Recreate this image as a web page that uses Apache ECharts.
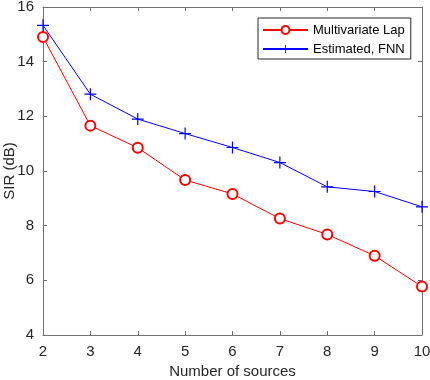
<!DOCTYPE html>
<html>
<head>
<meta charset="utf-8">
<script src="https://cdn.jsdelivr.net/npm/echarts@6/dist/echarts.min.js"></script>
<style>html,body{margin:0;padding:0;background:#fff}#c{width:430px;height:380px}</style>
</head>
<body>
<div id="c"></div>
<script>
var sources = [2, 3, 4, 5, 6, 7, 8, 9, 10];
var multivariateLap = [14.9, 11.66, 10.85, 9.67, 9.16, 8.26, 7.68, 6.9, 5.77];
var estimatedFNN = [15.33, 12.81, 11.9, 11.37, 10.86, 10.31, 9.42, 9.25, 8.69];
var xTicks = [2, 3, 4, 5, 6, 7, 8, 9, 10];
var yTicks = [4, 6, 8, 10, 12, 14, 16];

var FONT = "'Liberation Sans', Arial, Helvetica, sans-serif";
var AX = '#707070';
var TXT = '#262626';
var plusPath = 'path://M4.5,0 H5.5 V4.5 H10 V5.5 H5.5 V10 H4.5 V5.5 H0 V4.5 H4.5 Z';

function pairs(xs, ys) { return xs.map(function (x, i) { return [x, ys[i]]; }); }

var chart = echarts.init(document.getElementById('c'), null, {renderer: 'canvas'});
var baseAxis = {
  axisLine: {show: true, lineStyle: {color: AX, width: 1}},
  axisTick: {show: true, inside: true, length: 4, lineStyle: {color: AX, width: 1}},
  splitLine: {show: false},
  axisLabel: {show: false}
};
chart.setOption({
  animation: false,
  backgroundColor: '#fff',
  textStyle: {fontFamily: FONT},
  grid: {left: 43, right: 8, top: 7, bottom: 45, containLabel: false, outerBoundsMode: 'none'},
  legend: {
    orient: 'vertical',
    left: 258, top: 18,
    padding: [4, 6, 2, 4],
    itemWidth: 45, itemHeight: 10, itemGap: 3,
    borderColor: TXT, borderWidth: 1, backgroundColor: '#fff',
    textStyle: {fontFamily: FONT, fontSize: 13, color: '#000', lineHeight: 16},
    data: ['Multivariate Lap', 'Estimated, FNN']
  },
  xAxis: [
    Object.assign({}, baseAxis, {
      type: 'value', min: 2, max: 10, interval: 1, position: 'bottom',
      axisLabel: {show: true, margin: 9, fontSize: 15, color: TXT, fontFamily: FONT,
        customValues: xTicks},
      axisTick: {show: true, inside: true, length: 4, lineStyle: {color: AX}, customValues: xTicks},
      name: 'Number of sources', nameLocation: 'middle', nameGap: 29, nameMoveOverlap: false,
      nameTextStyle: {fontSize: 15, color: TXT, fontFamily: FONT}
    }),
    Object.assign({}, baseAxis, {type: 'value', min: 2, max: 10, interval: 1, position: 'top'})
  ],
  yAxis: [
    Object.assign({}, baseAxis, {
      type: 'value', min: 4, max: 16, interval: 2, position: 'left',
      axisLabel: {show: true, margin: 9, fontSize: 15, color: TXT, fontFamily: FONT,
        customValues: yTicks},
      axisTick: {show: true, inside: true, length: 4, lineStyle: {color: AX}, customValues: yTicks},
      name: 'SIR (dB)', nameLocation: 'middle', nameGap: 26, nameMoveOverlap: false,
      nameTextStyle: {fontSize: 15, color: TXT, fontFamily: FONT}
    }),
    Object.assign({}, baseAxis, {type: 'value', min: 4, max: 16, interval: 2, position: 'right'})
  ],
  series: [
    {
      name: 'Multivariate Lap', type: 'line', xAxisIndex: 0, yAxisIndex: 0,
      data: pairs(sources, multivariateLap),
      symbol: 'emptyCircle', symbolSize: 10, showAllSymbol: true,
      lineStyle: {color: '#ff0000', width: 1},
      itemStyle: {color: '#ff0000', borderColor: '#ff0000', borderWidth: 1},
      emphasis: {disabled: true}
    },
    {
      name: 'Estimated, FNN', type: 'line', xAxisIndex: 0, yAxisIndex: 0,
      data: pairs(sources, estimatedFNN),
      symbol: plusPath, symbolSize: 12, showAllSymbol: true,
      lineStyle: {color: '#0000ff', width: 1},
      itemStyle: {color: '#0000ff', borderWidth: 0},
      emphasis: {disabled: true}
    }
  ]
});
</script>
</body>
</html>
